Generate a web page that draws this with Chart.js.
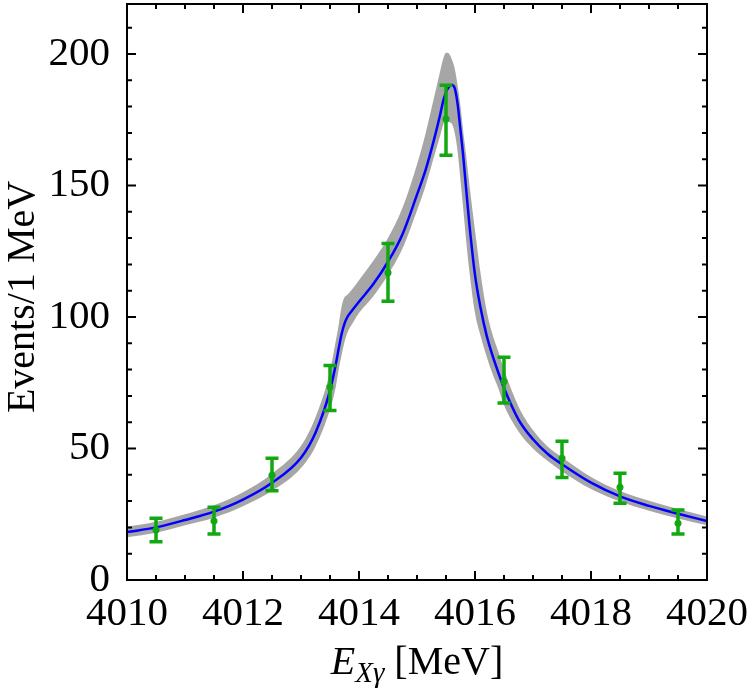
<!DOCTYPE html>
<html>
<head>
<meta charset="utf-8">
<script src="https://cdn.jsdelivr.net/npm/chart.js@4.4.1/dist/chart.umd.min.js"></script>
<style>
  html, body { margin: 0; padding: 0; background: #fff; }
</style>
</head>
<body>
<canvas id="lineshape" width="750" height="694"></canvas>
<script>
// energy grid (MeV) for the fit curve and the uncertainty band
const energyGrid = [4010, 4010.5, 4011, 4011.5, 4012, 4012.5, 4013, 4013.25, 4013.5, 4013.6,
  4013.65, 4013.7, 4013.75, 4013.8, 4013.9, 4014, 4014.25, 4014.5, 4014.75, 4015,
  4015.15, 4015.3, 4015.4, 4015.45, 4015.5, 4015.55, 4015.6, 4015.65, 4015.7, 4015.75,
  4015.8, 4015.85, 4015.9, 4016, 4016.1, 4016.2, 4016.3, 4016.4, 4016.5, 4016.75,
  4017, 4017.25, 4017.5, 4018, 4018.5, 4019, 4019.5, 4020];

// best fit (blue)
const fitCurve = [18.2, 20.0, 22.8, 26.0, 30.6, 37.0, 46.5, 56.0, 72.0, 82.0,
  88.0, 93.5, 97.5, 100.0, 103.0, 105.8, 112.6, 121.0, 131.5, 146.5,
  156.0, 168.0, 177.0, 182.0, 185.5, 187.5, 188.2, 187.0, 181.0, 171.0,
  160.5, 148.0, 136.0, 116.0, 103.0, 93.0, 85.5, 79.0, 73.0, 61.0,
  53.5, 48.0, 44.0, 37.0, 31.8, 28.2, 25.2, 22.4];

// gray band, upper and lower edge
const bandUpper = [20.2, 22.1, 25.0, 28.4, 33.4, 40.4, 51.0, 61.9, 79.2, 91.0,
  97.0, 104.0, 107.5, 108.5, 111.0, 114.0, 121.5, 130.0, 141.5, 158.0,
  170.0, 184.0, 193.5, 198.0, 200.5, 200.2, 198.0, 194.5, 188.0, 180.0,
  170.0, 161.0, 151.0, 133.0, 116.0, 102.5, 93.5, 87.0, 80.0, 66.0,
  57.0, 50.8, 46.7, 39.2, 33.8, 30.1, 27.0, 24.1];
const bandLower = [16.3, 18.0, 20.8, 23.7, 28.0, 33.9, 42.6, 50.8, 64.8, 73.5,
  80.0, 85.5, 90.5, 94.0, 98.0, 101.5, 108.0, 116.0, 126.0, 140.5,
  150.0, 161.5, 169.0, 173.0, 175.0, 174.0, 173.5, 170.0, 163.0, 152.0,
  140.5, 128.5, 118.0, 101.5, 92.5, 85.0, 78.5, 73.0, 66.5, 56.5,
  50.0, 45.3, 41.3, 34.6, 29.8, 26.3, 23.4, 20.8];

// data points with errors
const binCenters = [4010.5, 4011.5, 4012.5, 4013.5, 4014.5, 4015.5, 4016.5, 4017.5, 4018.5, 4019.5];
const counts     = [19.0, 22.4, 39.8, 73.4, 116.8, 175.3, 75.5, 46.3, 35.3, 21.6];
const errLow     = [14.5, 17.5, 33.9, 64.4, 106.0, 161.5, 67.3, 39.0, 29.2, 17.5];
const errHigh    = [23.5, 27.7, 46.3, 81.6, 127.9, 188.1, 84.7, 52.8, 40.6, 26.6];

const xTickLabels = [4010, 4012, 4014, 4016, 4018, 4020];
const yTickLabels = [0, 50, 100, 150, 200];

const green = '#11a811';
const serif = '"Liberation Serif", "DejaVu Serif", serif';

const pts = (ys) => energyGrid.map((e, i) => ({ x: e, y: ys[i] }));

// frame, inward ticks, error bars, axis titles
const decorations = {
  id: 'decorations',
  afterDatasetsDraw(chart) {
    const { ctx, scales: { x, y } } = chart;
    ctx.save();
    ctx.strokeStyle = green;
    ctx.lineWidth = 3.5;
    binCenters.forEach((e, i) => {
      const px = x.getPixelForValue(e);
      const top = y.getPixelForValue(errHigh[i]);
      const bot = y.getPixelForValue(errLow[i]);
      ctx.beginPath();
      ctx.moveTo(px, top); ctx.lineTo(px, bot);
      ctx.moveTo(px - 6.5, top); ctx.lineTo(px + 6.5, top);
      ctx.moveTo(px - 6.5, bot); ctx.lineTo(px + 6.5, bot);
      ctx.stroke();
    });
    ctx.restore();
  },
  afterDraw(chart) {
    const { ctx, chartArea: a, scales: { x, y } } = chart;
    ctx.save();
    ctx.strokeStyle = '#000';
    ctx.lineWidth = 2;
    ctx.strokeRect(a.left, a.top, a.right - a.left, a.bottom - a.top);

    ctx.beginPath();
    for (let v = 4010; v <= 4020.001; v += 0.5) {
      const px = x.getPixelForValue(v);
      const len = xTickLabels.includes(v) ? 9 : 5;
      ctx.moveTo(px, a.bottom); ctx.lineTo(px, a.bottom - len);
      ctx.moveTo(px, a.top); ctx.lineTo(px, a.top + len);
    }
    for (let v = 0; v <= 219; v += 10) {
      const py = y.getPixelForValue(v);
      const len = yTickLabels.includes(v) ? 9 : 5;
      ctx.moveTo(a.left, py); ctx.lineTo(a.left + len, py);
      ctx.moveTo(a.right, py); ctx.lineTo(a.right - len, py);
    }
    ctx.stroke();

    // x title: E_{Xγ} [MeV]
    ctx.fillStyle = '#000';
    ctx.textBaseline = 'alphabetic';
    const base = 674;
    ctx.font = 'italic 40px ' + serif;
    const wE = ctx.measureText('E').width;
    ctx.font = 'italic 29px ' + serif;
    const wSub = ctx.measureText('Xγ').width;
    ctx.font = '40px ' + serif;
    const wUnit = ctx.measureText(' [MeV]').width;
    let tx = (a.left + a.right) / 2 - (wE + wSub + wUnit) / 2;
    ctx.font = 'italic 40px ' + serif;
    ctx.fillText('E', tx, base); tx += wE;
    ctx.font = 'italic 29px ' + serif;
    ctx.fillText('Xγ', tx, base + 8); tx += wSub;
    ctx.font = '40px ' + serif;
    ctx.fillText(' [MeV]', tx, base);

    // y title
    ctx.translate(34, 297);
    ctx.rotate(-Math.PI / 2);
    ctx.textAlign = 'center';
    ctx.fillText('Events/1 MeV', 0, 0);
    ctx.restore();
  }
};

new Chart(document.getElementById('lineshape'), {
  type: 'line',
  data: {
    datasets: [
      {
        label: 'data',
        data: binCenters.map((e, i) => ({ x: e, y: counts[i] })),
        showLine: false,
        pointRadius: 3.5,
        pointBackgroundColor: green,
        pointBorderWidth: 0,
        order: 0
      },
      {
        label: 'fit',
        data: pts(fitCurve),
        borderColor: '#0000ff',
        borderWidth: 2.5,
        pointRadius: 0,
        fill: false,
        cubicInterpolationMode: 'monotone',
        order: 1
      },
      {
        label: 'band upper',
        data: pts(bandUpper),
        borderWidth: 0,
        borderColor: 'rgba(0,0,0,0)',
        backgroundColor: '#a6a6a6',
        pointRadius: 0,
        fill: '+1',
        cubicInterpolationMode: 'monotone',
        order: 2
      },
      {
        label: 'band lower',
        data: pts(bandLower),
        borderWidth: 0,
        borderColor: 'rgba(0,0,0,0)',
        pointRadius: 0,
        fill: false,
        cubicInterpolationMode: 'monotone',
        order: 3
      }
    ]
  },
  options: {
    responsive: false,
    animation: false,
    devicePixelRatio: 1,
    layout: { padding: { left: 0, right: 43, top: 3, bottom: 0 } },
    plugins: { legend: { display: false }, tooltip: { enabled: false } },
    scales: {
      x: {
        type: 'linear',
        min: 4010,
        max: 4020,
        grid: { display: false },
        border: { display: false },
        afterBuildTicks: (s) => { s.ticks = xTickLabels.map(v => ({ value: v })); },
        afterFit: (s) => { s.height = 114; s.paddingLeft = 0; s.paddingRight = 0; },
        ticks: {
          autoSkip: false,
          maxRotation: 0,
          padding: 2,
          color: '#000',
          font: { family: serif, size: 41 },
          callback: (v) => String(v)
        }
      },
      y: {
        type: 'linear',
        min: 0,
        max: 219,
        grid: { display: false },
        border: { display: false },
        afterBuildTicks: (s) => { s.ticks = yTickLabels.map(v => ({ value: v })); },
        afterFit: (s) => { s.width = 127; s.paddingTop = 0; s.paddingBottom = 0; },
        ticks: {
          padding: 9,
          color: '#000',
          font: { family: serif, size: 41 },
          callback: (v) => String(v)
        }
      }
    }
  },
  plugins: [decorations]
});
</script>
</body>
</html>
